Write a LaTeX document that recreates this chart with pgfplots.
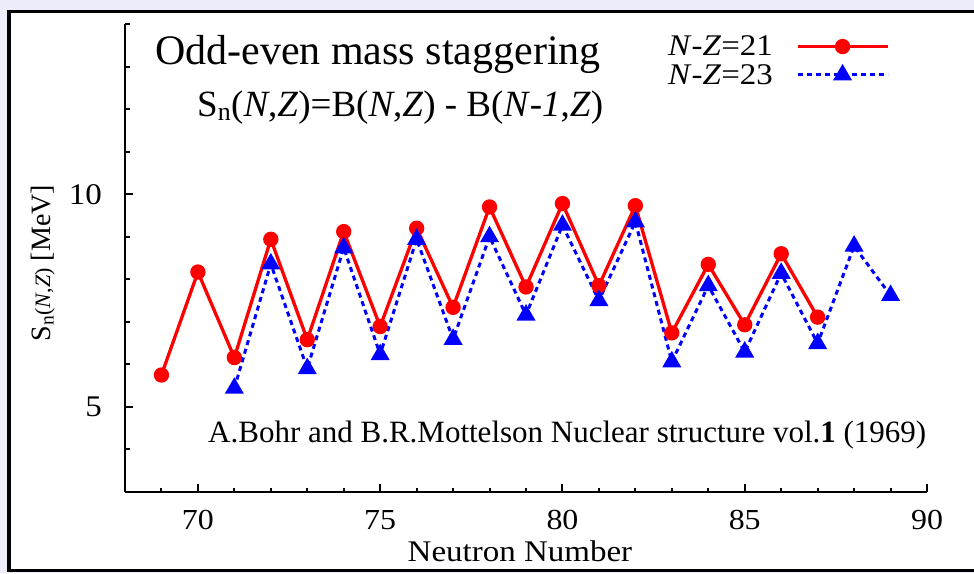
\documentclass[border=0pt]{standalone}
\usepackage{fontspec}
\setmainfont{Liberation Serif}
\newfontfamily\strfont{Liberation Serif}[FakeStretch=1.1]
\usepackage{pgfplots}
\pgfplotsset{compat=1.18}
\definecolor{lav}{RGB}{237,236,251}
\definecolor{myred}{RGB}{255,0,0}
\definecolor{myblue}{RGB}{0,0,255}
\begin{document}
\begin{tikzpicture}[x=1pt,y=1pt]
\useasboundingbox (0,0) rectangle (974,573);
\fill[lav] (0,0) rectangle (974,573);
\filldraw[fill=white,draw=black,line width=3.5pt] (9,2.5) rectangle (990,561.5);
\begin{axis}[
  at={(125pt,81pt)}, anchor=south west,
  scale only axis, width=802pt, height=468pt,
  xmin=68, xmax=90, ymin=3, ymax=14,
  axis lines*=left,
  axis line style={line width=2.5pt, black, -},
  clip=false,
  xtick={70,75,80,85,90}, ytick={5,10},
  minor xtick={69,...,89}, minor ytick={4,...,14},
  tick align=inside,
  major tick length=8pt, minor tick length=4.5pt,
  every tick/.style={black, line width=2pt},
  /pgf/number format/assume math mode=true,
  xticklabel style={font=\strfont\fontsize{29}{29}\selectfont, inner sep=0pt, anchor=north, yshift=-18pt},
  yticklabel style={font=\strfont\fontsize{30}{30}\selectfont, inner sep=0pt, anchor=east, xshift=-23pt},
  every axis x label/.style={at={(axis description cs:0.4925,-0.149)}, anchor=base, font=\strfont\fontsize{30}{30}\selectfont, inner sep=0pt},
  every axis y label/.style={at={(axis description cs:-0.0935,0.489)}, rotate=90, anchor=base, font=\fontsize{28}{28}\selectfont, inner sep=0pt},
  xlabel={Neutron Number},
  ylabel={S\textsubscript{n}{\fontsize{22}{22}\selectfont(\textit{N},\textit{Z})} [MeV]},
  legend style={at={(axis description cs:0.677,0.975)}, anchor=north west, draw=none, fill=none, inner sep=0pt, column sep=23pt, row sep=7pt, font=\strfont\fontsize{30}{30}\selectfont, nodes={inner sep=0pt}, cells={anchor=west}},
  legend plot pos=right,
  legend image code/.code={\draw[mark repeat=2,mark phase=2,#1] plot coordinates {(0pt,0pt) (45pt,0pt) (90pt,0pt)};},
]
\addplot[color=myred, line width=3.3pt, mark=*, mark size=6pt, mark options={solid}] coordinates {
(69,5.75) (70,8.17) (71,6.16) (72,8.94) (73,6.58) (74,9.12) (75,6.89) (76,9.20) (77,7.34) (78,9.70) (79,7.82) (80,9.78) (81,7.85) (82,9.73) (83,6.74) (84,8.35) (85,6.93) (86,8.60) (87,7.11)
};
\addlegendentry{\textit{N}-\textit{Z}=21}
\addplot[color=myblue, line width=3pt, dash pattern=on 5pt off 4pt, mark=triangle*, mark size=8pt, mark options={solid}] coordinates {
(71,5.44) (72,8.36) (73,5.90) (74,8.74) (75,6.23) (76,8.94) (77,6.59) (78,9.00) (79,7.16) (80,9.27) (81,7.50) (82,9.35) (83,6.06) (84,7.85) (85,6.29) (86,8.14) (87,6.49) (88,8.78) (89,7.62)
};
\addlegendentry{\textit{N}-\textit{Z}=23}
\end{axis}
\node[anchor=base west, inner sep=0pt, font=\fontsize{42}{42}\selectfont] at (155,508) {Odd-even mass staggering};
\node[anchor=base west, inner sep=0pt, font=\fontsize{37}{37}\selectfont] at (197,456) {S\textsubscript{n}(\textit{N},\textit{Z})=B(\textit{N},\textit{Z}) - B(\textit{N}-\textit{1},\textit{Z})};
\node[anchor=base west, inner sep=0pt, font=\fontsize{31}{31}\selectfont] at (208,130) {A.Bohr and B.R.Mottelson Nuclear structure vol.\textbf{1} (1969)};
\end{tikzpicture}
\end{document}
